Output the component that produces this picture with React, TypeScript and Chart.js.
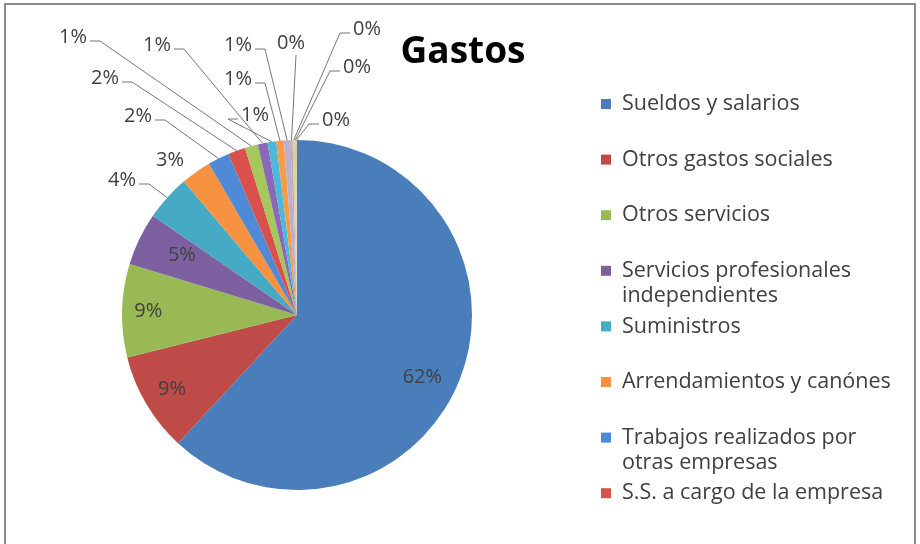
import React, { useEffect, useRef } from "react";
import { Chart, registerables } from "chart.js";

Chart.register(...registerables);

// ---------- data ----------
const title = "Gastos";
const categories = [
  "Sueldos y salarios",
  "Otros gastos sociales",
  "Otros servicios",
  "Servicios profesionales independientes",
  "Suministros",
  "Arrendamientos y canónes",
  "Trabajos realizados por otras empresas",
  "S.S. a cargo de la empresa",
  "Tributos",
  "Reparaciones y conservación",
  "Primas de seguros",
  "Publicidad y propaganda",
  "Servicios bancarios",
  "Transportes",
  "Gastos financieros",
  "Otros gastos de gestión",
  "Otros tributos",
];
const values = [61.9, 9.2, 8.6, 4.9, 4.2, 2.8, 2.0, 1.6, 1.2, 0.9, 0.8, 0.7, 0.6, 0.2, 0.2, 0.1, 0.1];
const colors = [
  "#4A7EBB", "#BE4B48", "#98B954", "#7D60A0", "#46AAC5", "#F69240",
  "#4F8AD6", "#D9504C", "#A5C85C", "#8A6AB8", "#4EB8D8", "#F99A45",
  "#B9AFCF", "#C9A8A6", "#C6D6A8", "#B8CCE4", "#F2C2A0",
];
const legendCount = 8;

// ---------- layout (label placement, not data) ----------
type LabelSpec =
  | { mode: "in"; r: number; da: number }
  | { mode: "out"; x: number; y: number; line: "right" | "bottom" | "none" };
const labelLayout: LabelSpec[] = [
  { mode: "in", r: 0.8, da: 5 },
  { mode: "in", r: 0.83, da: 0 },
  { mode: "in", r: 0.85, da: 0 },
  { mode: "in", r: 0.74, da: 1.5 },
  { mode: "out", x: 122, y: 180, line: "right" },
  { mode: "out", x: 170, y: 160, line: "none" },
  { mode: "out", x: 138, y: 116, line: "right" },
  { mode: "out", x: 105, y: 78, line: "right" },
  { mode: "out", x: 73, y: 37, line: "right" },
  { mode: "out", x: 157, y: 45, line: "right" },
  { mode: "out", x: 255, y: 115, line: "right" },
  { mode: "out", x: 238, y: 79, line: "right" },
  { mode: "out", x: 238, y: 45, line: "right" },
  { mode: "out", x: 291, y: 43, line: "bottom" },
  { mode: "out", x: 367, y: 29, line: "right" },
  { mode: "out", x: 357, y: 67, line: "right" },
  { mode: "out", x: 336, y: 120, line: "right" },
];

const FONT = "'Open Sans', 'Noto Sans', sans-serif";
const TEXT = "#404040";

const drawPlugin = {
  id: "excelPie",
  beforeDraw(chart: any) {
    const ctx = chart.ctx;
    ctx.save();
    ctx.fillStyle = "#ffffff";
    ctx.fillRect(0, 0, chart.width, chart.height);
    ctx.restore();
  },
  afterDraw(chart: any) {
    const ctx: CanvasRenderingContext2D = chart.ctx;
    const meta = chart.getDatasetMeta(0);
    const total = values.reduce((a, b) => a + b, 0);
    ctx.save();

    // percentage labels
    ctx.font = `20px ${FONT}`;
    ctx.textAlign = "center";
    ctx.textBaseline = "middle";
    meta.data.forEach((arc: any, i: number) => {
      const p = arc.getProps(["x", "y", "startAngle", "endAngle", "outerRadius"], true);
      const mid = (p.startAngle + p.endAngle) / 2;
      const txt = Math.round((values[i] / total) * 100) + "%";
      const spec = labelLayout[i];
      if (!spec) return;
      if (spec.mode === "in") {
        const r = p.outerRadius * spec.r;
        const a = mid + (spec.da * Math.PI) / 180;
        ctx.fillStyle = TEXT;
        ctx.fillText(txt, p.x + Math.cos(a) * r, p.y + Math.sin(a) * r);
      } else {
        ctx.fillStyle = TEXT;
        ctx.fillText(txt, spec.x, spec.y);
        const ex = p.x + Math.cos(mid) * p.outerRadius;
        const ey = p.y + Math.sin(mid) * p.outerRadius;
        const w = ctx.measureText(txt).width;
        ctx.strokeStyle = "#777777";
        ctx.lineWidth = 1;
        ctx.beginPath();
        if (spec.line === "right") {
          const sx = spec.x + w / 2 + 3;
          const sy = spec.y + 4;
          const dir = ex >= sx ? 1 : -1;
          if (dir > 0) {
            ctx.moveTo(sx, sy);
            ctx.lineTo(sx + 10, sy);
          } else {
            const lx = spec.x - w / 2 - 3;
            ctx.moveTo(lx, sy);
            ctx.lineTo(lx - 10, sy);
          }
          ctx.lineTo(ex, ey);
          ctx.stroke();
        } else if (spec.line === "bottom") {
          ctx.moveTo(spec.x + 5, spec.y + 12);
          ctx.lineTo(ex, ey);
          ctx.stroke();
        }
      }
    });

    // title
    ctx.fillStyle = "#000000";
    ctx.font = `bold 37px ${FONT}`;
    ctx.textAlign = "center";
    ctx.textBaseline = "middle";
    ctx.fillText(title, 463, 52);

    // legend
    ctx.font = `21.5px ${FONT}`;
    ctx.textAlign = "left";
    const lx = 622;
    const maxW = 288;
    for (let i = 0; i < legendCount; i++) {
      const y = 104 + i * 55.6;
      ctx.fillStyle = colors[i];
      ctx.fillRect(601, y - 5, 10, 10);
      const words = categories[i].split(" ");
      const lines: string[] = [];
      let cur = "";
      for (const wd of words) {
        const t = cur ? cur + " " + wd : wd;
        if (ctx.measureText(t).width > maxW && cur) {
          lines.push(cur);
          cur = wd;
        } else cur = t;
      }
      if (cur) lines.push(cur);
      ctx.fillStyle = TEXT;
      lines.forEach((ln, k) => ctx.fillText(ln, lx, y + k * 25));
    }

    // frame
    ctx.strokeStyle = "#8c8c8c";
    ctx.lineWidth = 2;
    ctx.beginPath();
    ctx.moveTo(5, 560);
    ctx.lineTo(5, 4);
    ctx.lineTo(915, 4);
    ctx.lineTo(915, 560);
    ctx.stroke();
    ctx.restore();
  },
};

export default function App() {
  const ref = useRef<HTMLCanvasElement | null>(null);
  useEffect(() => {
    if (!ref.current) return;
    const chart = new Chart(ref.current, {
      type: "pie",
      data: {
        labels: categories,
        datasets: [
          {
            data: values,
            backgroundColor: colors,
            borderWidth: 0,
          },
        ],
      },
      options: {
        animation: false,
        responsive: false,
        devicePixelRatio: 1,
        layout: { padding: { left: 122, right: 448, top: 140, bottom: 54 } },
        plugins: {
          legend: { display: false },
          tooltip: { enabled: false },
          title: { display: false },
        },
      },
      plugins: [drawPlugin],
    });
    return () => chart.destroy();
  }, []);
  return (
    <div style={{ position: "absolute", left: 0, top: 0, width: 920, height: 544, background: "#fff" }}>
      <canvas ref={ref} width={920} height={544} style={{ display: "block" }} />
    </div>
  );
}
